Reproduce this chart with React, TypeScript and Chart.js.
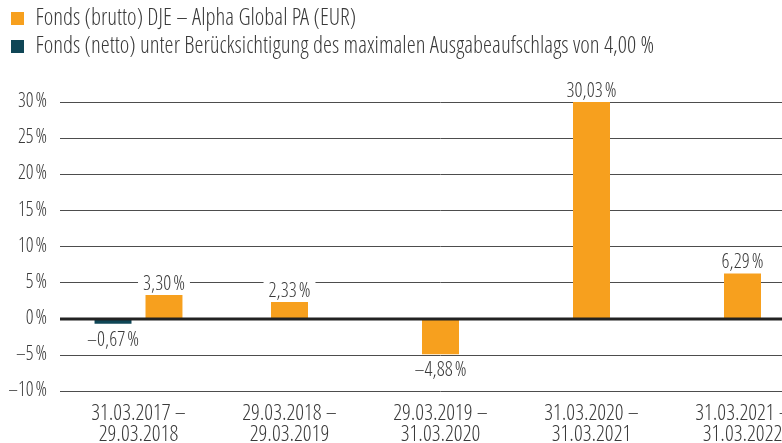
import React, { useEffect, useRef } from 'react';
import { Chart, registerables } from 'chart.js';

Chart.register(...registerables);

const categories: string[][] = [
  ['31.03.2017 –', '29.03.2018'],
  ['29.03.2018 –', '29.03.2019'],
  ['29.03.2019 –', '31.03.2020'],
  ['31.03.2020 –', '31.03.2021'],
  ['31.03.2021 –', '31.03.2022'],
];
const bruttoValues: (number | null)[] = [3.3, 2.33, -4.88, 30.03, 6.29];
const nettoValues: (number | null)[] = [-0.67, null, null, null, null];
const yTicks: number[] = [-10, -5, 0, 5, 10, 15, 20, 25, 30];
const bruttoLabel = 'Fonds (brutto) DJE – Alpha Global PA (EUR)';
const nettoLabel = 'Fonds (netto) unter Berücksichtigung des maximalen Ausgabeaufschlags von 4,00 %';

const FONT = "'Open Sans Condensed Light', 'Roboto Condensed', 'DejaVu Sans Condensed', sans-serif";
const TEXT = '#3a3a3a';
const ORANGE = '#f7a01e';
const TEAL = '#0f4656';

const fmtValue = (v: number) =>
  (v < 0 ? '–' : '') + Math.abs(v).toFixed(2).replace('.', ',') + '\u200A%';
const fmtTick = (v: number) => (v < 0 ? '–' : '') + Math.abs(v) + '\u200A%';

const legendSpacer = {
  id: 'legendSpacer',
  beforeInit(chart: any) {
    const legend = chart.legend;
    if (!legend) return;
    const orig = legend.fit;
    legend.fit = function () {
      orig.call(this);
      this.height += 34;
    };
  },
};

const overlay = {
  id: 'overlay',
  afterDatasetsDraw(chart: any) {
    const { ctx, chartArea, scales } = chart;
    const y0 = scales.y.getPixelForValue(0);
    ctx.save();
    ctx.strokeStyle = '#222222';
    ctx.lineWidth = 3;
    ctx.beginPath();
    ctx.moveTo(chartArea.left - 3, y0);
    ctx.lineTo(chartArea.right, y0);
    ctx.stroke();

    ctx.font = `20px ${FONT}`;
    ctx.textAlign = 'center';
    ctx.textBaseline = 'alphabetic';
    chart.data.datasets.forEach((ds: any, di: number) => {
      const meta = chart.getDatasetMeta(di);
      meta.data.forEach((bar: any, i: number) => {
        const v = ds.data[i];
        if (v == null) return;
        const text = fmtValue(v);
        const w = ctx.measureText(text).width;
        const x = bar.x;
        const yb = v >= 0 ? bar.y - 5 : bar.y + 22;
        ctx.fillStyle = '#ffffff';
        ctx.fillRect(x - w / 2 - 5, yb - 16, w + 10, 19);
        ctx.fillStyle = TEXT;
        ctx.fillText(text, x, yb);
      });
    });
    ctx.restore();
  },
};

export default function App() {
  const ref = useRef<HTMLCanvasElement | null>(null);

  useEffect(() => {
    if (!ref.current) return;
    const chart = new Chart(ref.current, {
      type: 'bar',
      data: {
        labels: categories,
        datasets: [
          {
            label: nettoLabel,
            data: nettoValues,
            backgroundColor: TEAL,
            borderWidth: 0,
          },
          {
            label: bruttoLabel,
            data: bruttoValues,
            backgroundColor: ORANGE,
            borderWidth: 0,
          },
        ],
      },
      options: {
        responsive: false,
        animation: false,
        devicePixelRatio: 1,
        layout: { padding: { left: 6, right: 22, top: 2, bottom: 0 } },
        datasets: {
          bar: {
            categoryPercentage: 0.675,
            barPercentage: 0.725,
            maxBarThickness: 37,
            skipNull: true,
          },
        },
        plugins: {
          legend: {
            display: true,
            position: 'top',
            align: 'start',
            reverse: true,
            labels: {
              boxWidth: 13,
              boxHeight: 13,
              padding: 5,
              color: TEXT,
              font: { family: FONT, size: 23 },
            },
          },
          tooltip: { enabled: false },
        },
        scales: {
          x: {
            grid: { display: false, drawTicks: false },
            border: { display: false },
            ticks: {
              color: TEXT,
              padding: 13,
              maxRotation: 0,
              autoSkip: false,
              font: { family: FONT, size: 22, lineHeight: 0.95 },
            },
          },
          y: {
            min: -10,
            max: 30,
            afterBuildTicks: (scale: any) => {
              scale.ticks = yTicks.map((v) => ({ value: v }));
            },
            afterFit: (scale: any) => {
              scale.width = 57;
            },
            border: { display: false },
            grid: {
              drawTicks: true,
              tickLength: 3,
              color: (c: any) => (c.tick && c.tick.value === 0 ? 'rgba(0,0,0,0)' : '#4d4d4d'),
              lineWidth: 1,
            },
            ticks: {
              color: TEXT,
              padding: 13,
              font: { family: FONT, size: 19.5 },
              callback: (v: any) => fmtTick(Number(v)),
            },
          },
        },
      },
      plugins: [legendSpacer, overlay],
    });
    return () => chart.destroy();
  }, []);

  return (
    <div
      style={{
        position: 'fixed',
        left: 0,
        top: 0,
        width: 782,
        height: 443,
        overflow: 'hidden',
        background: '#ffffff',
      }}
    >
      <canvas ref={ref} width={840} height={459} style={{ width: 840, height: 459, display: 'block' }} />
    </div>
  );
}
